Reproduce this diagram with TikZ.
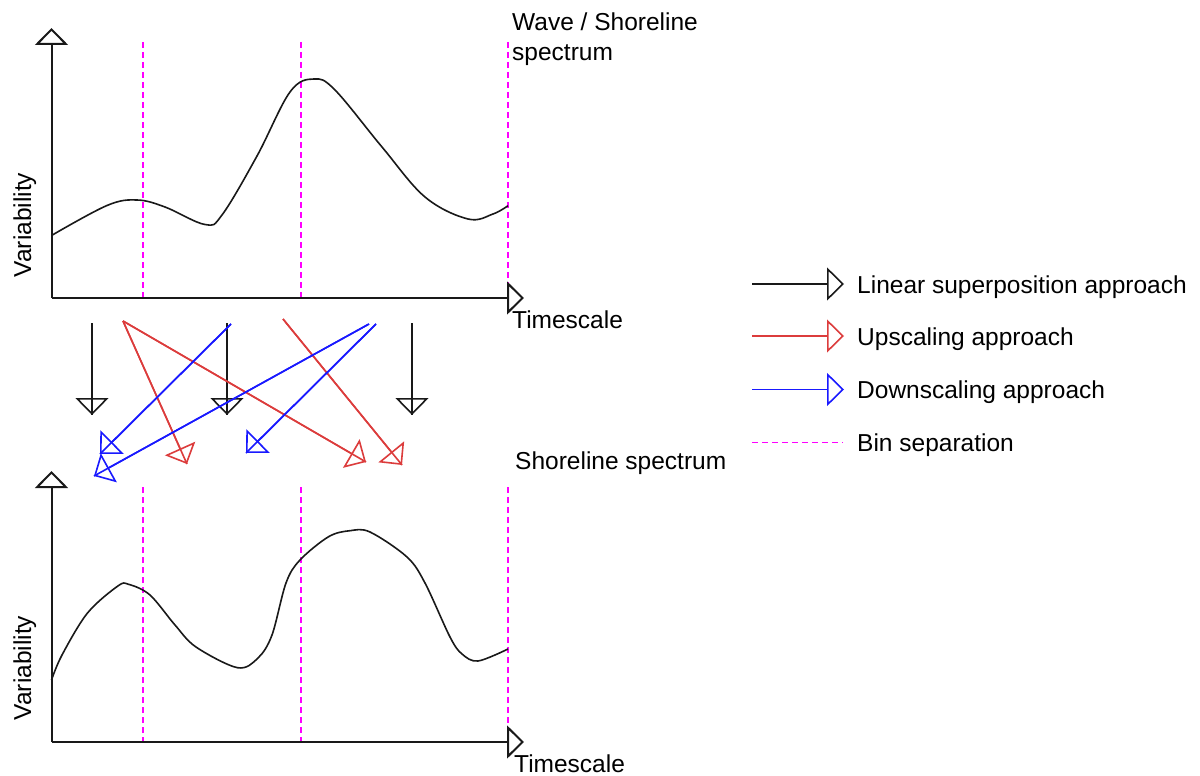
\documentclass[tikz,border=0pt]{standalone}
\usepackage{fontspec}
\setmainfont{Liberation Sans}
\usetikzlibrary{arrows.meta}
\definecolor{upred}{RGB}{220,60,60}
\definecolor{downblue}{RGB}{25,25,255}
\definecolor{binmag}{RGB}{255,0,255}
\definecolor{inkk}{RGB}{25,25,25}
\begin{document}
\begin{tikzpicture}[x=1pt,y=-1pt,
  lbl/.style={font=\fontsize{24.5}{29}\selectfont, inner sep=0pt, text=black},
  opentip/.style={-{Triangle[open,length=17pt,width=33pt]}},
  axis/.style={inkk, line width=2pt, opentip},
  curve/.style={inkk, line width=1.6pt},
  bin/.style={binmag, line width=1.8pt, dash pattern=on 6pt off 4pt},
  thru/.style={line width=1.6pt, postaction={draw, opentip}},
  linarrow/.style={thru, inkk},
  uparrow/.style={thru, upred},
  downarrow/.style={thru, downblue}]
\fill[white] (0,0) rectangle (1200,776);
\useasboundingbox (0,0) rectangle (1200,776);

% ---------- top plot ----------
\coordinate (o1) at (51.5,298);
\coordinate (y1) at (51.5,28);
\coordinate (x1) at (524,298);
\foreach \xx/\nm in {143/a,301/b,508/c} {
  \coordinate (t\nm) at (\xx,42);
  \coordinate (u\nm) at (\xx,298);
  \draw[bin] (t\nm) -- (u\nm);
}
\draw[axis] (o1) -- (y1);
\draw[axis] (o1) -- (x1);
\draw[curve] plot[smooth, tension=0.6] coordinates {
  (51.5,235.5) (107,205.5) (137,200) (165,207) (205,224.5) (222,215)
  (257,156) (290,92) (314,79) (335,90) (382,147) (425,197)
  (468,219) (493,214) (508,205.7)};
\node[lbl, anchor=base west] (wave) at (512,31) {Wave / Shoreline};
\node[lbl, anchor=base west] (spec) at (512,60) {spectrum};
\node[lbl, anchor=base west] (ts1) at (512,328) {Timescale};
\node[lbl, anchor=base, rotate=90] (var1) at (31,225) {Variability};

% ---------- bottom plot ----------
\coordinate (o2) at (51.5,742);
\coordinate (y2) at (51.5,471);
\coordinate (x2) at (524,742);
\foreach \xx/\nm in {143/a,301/b,508/c} {
  \coordinate (v\nm) at (\xx,487);
  \coordinate (w\nm) at (\xx,742);
  \draw[bin] (v\nm) -- (w\nm);
}
\draw[axis] (o2) -- (y2);
\draw[axis] (o2) -- (x2);
\draw[curve] plot[smooth, tension=0.55] coordinates {
  (51.5,680) (62,655) (87.5,613) (117.9,586) (128.6,584.3) (150,595)
  (175,625) (196,647) (237.5,667.7) (258,658) (272,635) (286,583)
  (300,560) (328.6,536.7) (350,530.7) (370,532) (407,557) (425,583)
  (450,637) (462,654) (478,661) (508,649)};
\node[lbl, anchor=base west] (shore) at (515,469) {Shoreline spectrum};
\node[lbl, anchor=base west] (ts2) at (514,772) {Timescale};
\node[lbl, anchor=base, rotate=90] (var2) at (31,668) {Variability};

% ---------- approach arrows ----------
\coordinate (k1s) at (92,323);  \coordinate (k1e) at (92,415);
\coordinate (k2s) at (227,323); \coordinate (k2e) at (227,415);
\coordinate (k3s) at (412,323); \coordinate (k3e) at (412,415);
\draw[linarrow] (k1s) -- (k1e);
\draw[linarrow] (k2s) -- (k2e);
\draw[linarrow] (k3s) -- (k3e);

\coordinate (r1s) at (123,321);  \coordinate (r1e) at (187,464);
\coordinate (r2e) at (366,462);
\coordinate (r3s) at (283,319);  \coordinate (r3e) at (402,465);
\draw[uparrow] (r1s) -- (r1e);
\draw[uparrow] (r1s) -- (r2e);
\draw[uparrow] (r3s) -- (r3e);

\coordinate (b1s) at (231,324);  \coordinate (b1e) at (100,454);
\coordinate (b2s) at (369,324);  \coordinate (b2e) at (94,476);
\coordinate (b3s) at (376,324);  \coordinate (b3e) at (246,453);
\draw[downarrow] (b1s) -- (b1e);
\draw[downarrow] (b2s) -- (b2e);
\draw[downarrow] (b3s) -- (b3e);

% ---------- legend ----------
\coordinate (l1s) at (752,284);   \coordinate (l1e) at (844,284);
\coordinate (l2s) at (752,336);   \coordinate (l2e) at (844,336);
\coordinate (l3s) at (752,389.5); \coordinate (l3e) at (844,389.5);
\coordinate (l4s) at (752,442.5); \coordinate (l4e) at (843,442.5);
\draw[inkk, line width=1.6pt, opentip] (l1s) -- (l1e);
\draw[upred, line width=1.6pt, opentip] (l2s) -- (l2e);
\draw[downblue, line width=1.6pt, opentip] (l3s) -- (l3e);
\draw[bin] (l4s) -- (l4e);
\node[lbl, anchor=base west] (leg1) at (857,293) {Linear superposition approach};
\node[lbl, anchor=base west] (leg2) at (857,345) {Upscaling approach};
\node[lbl, anchor=base west] (leg3) at (857,398) {Downscaling approach};
\node[lbl, anchor=base west] (leg4) at (857,451) {Bin separation};
\end{tikzpicture}
\end{document}
